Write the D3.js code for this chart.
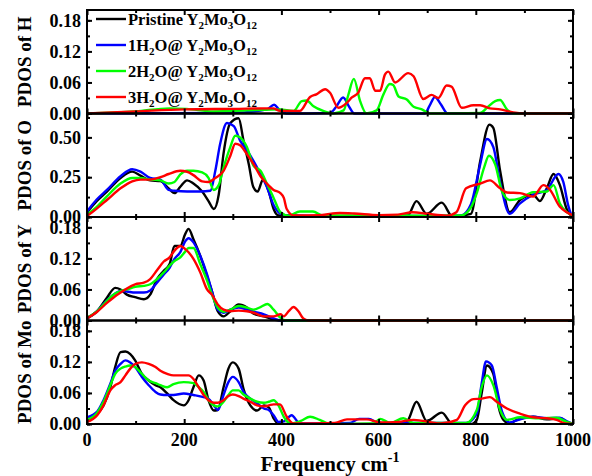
<!DOCTYPE html>
<html>
<head>
<meta charset="utf-8">
<script src="https://cdn.jsdelivr.net/npm/d3@7"></script>
<style>
body { margin: 0; background: #fff; }
text { font-family: "Liberation Serif", "Times New Roman", serif; font-weight: bold; }
</style>
</head>
<body>
<svg id="chart"></svg>
<script>
// frequency / PDOS pairs
var hBlue = [[0,0],[300,0.001],[370,0.008],[385,0.017],[395,0.008],[410,0],[500,0.001],[512,0.012],[527,0.031],[540,0.012],[550,0],[695,0],[705,0.015],[716,0.032],[728,0.018],[742,0],[1000,0]];
var hGreen = [[0,0],[100,0.004],[170,0.01],[205,0.009],[260,0.004],[330,0.006],[397,0.008],[425,0.005],[442,0.024],[452,0.025],[466,0.014],[486,0.005],[507,0],[528,0.006],[538,0.037],[549,0.067],[562,0.024],[575,0],[596,0.006],[610,0.037],[623,0.057],[630,0.055],[641,0.033],[658,0.027],[672,0.013],[689,0.008],[706,0],[809,0.001],[823,0.011],[840,0.024],[850,0.026],[864,0.008],[877,0],[1000,0]];
var hRed = [[0,0],[100,0.004],[200,0.008],[300,0.009],[383,0.01],[397,0.005],[438,0.005],[459,0.032],[472,0.037],[490,0.047],[500,0.04],[517,0.011],[534,0.02],[545,0.031],[558,0.04],[572,0.068],[582,0.068],[593,0.044],[603,0.044],[613,0.075],[620,0.081],[634,0.06],[661,0.078],[672,0.072],[692,0.028],[709,0.036],[723,0.03],[740,0.054],[750,0.052],[771,0.011],[795,0.016],[809,0.016],[829,0.01],[850,0.008],[877,0.002],[900,0],[1000,0]];

var oBlack = [[0,0.03],[20,0.1],[41,0.16],[69,0.245],[93,0.285],[110,0.26],[130,0.23],[151,0.225],[168,0.18],[180,0.15],[192,0.19],[206,0.23],[219,0.21],[237,0.16],[250,0.1],[261,0.05],[271,0.14],[281,0.4],[295,0.59],[312,0.62],[322,0.48],[333,0.33],[342,0.19],[351,0.16],[362,0.235],[374,0.16],[384,0.05],[394,0.01],[420,0.008],[500,0.005],[600,0.005],[660,0.01],[678,0.1],[699,0.02],[730,0.09],[752,0.003],[790,0.02],[809,0.35],[828,0.58],[836,0.56],[850,0.29],[870,0.03],[891,0.107],[918,0.14],[932,0.1],[946,0.18],[960,0.27],[973,0.2],[987,0.05],[996,0.01],[1000,0.005]];
var oBlue = [[0,0.035],[20,0.11],[41,0.17],[69,0.256],[93,0.3],[110,0.285],[130,0.245],[151,0.235],[168,0.17],[180,0.165],[206,0.16],[233,0.16],[254,0.165],[264,0.29],[274,0.46],[288,0.59],[302,0.57],[315,0.48],[329,0.42],[343,0.35],[357,0.27],[370,0.19],[384,0.075],[398,0.02],[410,0.01],[500,0.005],[600,0.008],[700,0.006],[770,0.01],[790,0.08],[809,0.33],[823,0.49],[836,0.44],[850,0.22],[870,0.02],[891,0.085],[918,0.14],[946,0.17],[970,0.27],[980,0.22],[990,0.075],[996,0.02],[1000,0.01]];
var oGreen = [[0,0.015],[20,0.064],[41,0.13],[69,0.21],[93,0.245],[110,0.245],[130,0.235],[151,0.23],[168,0.21],[180,0.22],[192,0.267],[206,0.29],[219,0.29],[237,0.28],[250,0.245],[261,0.17],[271,0.2],[281,0.31],[295,0.44],[305,0.51],[315,0.5],[329,0.44],[343,0.32],[357,0.29],[370,0.21],[384,0.12],[398,0.03],[415,0.008],[438,0.035],[465,0.035],[485,0.01],[560,0.01],[614,0.012],[700,0.008],[770,0.01],[790,0.06],[803,0.16],[817,0.31],[827,0.385],[840,0.33],[854,0.16],[870,0.107],[891,0.117],[918,0.156],[946,0.16],[960,0.2],[973,0.085],[987,0.03],[1000,0.01]];
var oRed = [[0,0.006],[20,0.053],[41,0.107],[69,0.18],[93,0.224],[110,0.235],[130,0.235],[151,0.25],[168,0.27],[192,0.29],[206,0.284],[219,0.263],[237,0.224],[250,0.22],[264,0.245],[281,0.29],[295,0.385],[305,0.46],[315,0.45],[329,0.395],[343,0.33],[357,0.256],[370,0.21],[384,0.17],[398,0.15],[405,0.12],[411,0.05],[425,0.01],[480,0.012],[520,0.025],[550,0.022],[600,0.012],[640,0.015],[670,0.03],[700,0.02],[740,0.008],[760,0.03],[780,0.18],[809,0.21],[829,0.23],[850,0.18],[864,0.154],[891,0.15],[918,0.128],[939,0.2],[953,0.17],[973,0.064],[987,0.03],[1000,0.01]];

var yBlack = [[0,0.004],[21,0.018],[41,0.044],[58,0.063],[69,0.06],[82,0.05],[99,0.045],[117,0.041],[130,0.05],[144,0.08],[158,0.096],[170,0.109],[180,0.144],[192,0.144],[202,0.167],[209,0.177],[219,0.157],[233,0.125],[247,0.086],[257,0.057],[269,0.018],[281,0.008],[295,0.018],[312,0.031],[329,0.025],[343,0.013],[364,0.008],[384,0.002],[400,0],[1000,0]];
var yBlue = [[0,0.004],[21,0.018],[41,0.039],[58,0.052],[69,0.057],[82,0.056],[99,0.054],[117,0.054],[130,0.058],[144,0.073],[158,0.089],[170,0.102],[180,0.119],[192,0.132],[202,0.153],[209,0.159],[219,0.151],[233,0.125],[247,0.089],[257,0.057],[269,0.021],[281,0.015],[295,0.021],[312,0.025],[329,0.021],[343,0.017],[364,0.012],[384,0.004],[400,0],[1000,0]];
var yGreen = [[0,0.005],[21,0.018],[41,0.038],[58,0.052],[69,0.057],[82,0.06],[99,0.065],[117,0.067],[130,0.07],[144,0.08],[158,0.093],[170,0.106],[180,0.115],[192,0.122],[202,0.133],[209,0.14],[219,0.14],[233,0.109],[247,0.077],[257,0.05],[269,0.025],[281,0.017],[295,0.021],[312,0.028],[329,0.025],[343,0.021],[357,0.026],[371,0.032],[384,0.021],[398,0.005],[410,0],[1000,0]];
var yRed = [[0,0.004],[21,0.017],[41,0.034],[58,0.047],[69,0.054],[82,0.062],[99,0.07],[117,0.073],[130,0.08],[144,0.097],[158,0.114],[170,0.122],[180,0.135],[192,0.144],[202,0.138],[209,0.132],[219,0.119],[233,0.093],[247,0.06],[257,0.05],[269,0.031],[281,0.021],[295,0.018],[312,0.019],[329,0.018],[343,0.015],[364,0.008],[384,0.008],[398,0.012],[405,0.008],[415,0.018],[425,0.026],[435,0.018],[445,0.004],[455,0],[1000,0]];

var moBlack = [[0,0.008],[21,0.02],[34,0.036],[48,0.071],[58,0.11],[69,0.139],[79,0.14],[89,0.135],[99,0.123],[113,0.097],[127,0.084],[141,0.075],[151,0.071],[165,0.059],[178,0.046],[199,0.036],[209,0.046],[219,0.071],[230,0.094],[240,0.084],[250,0.046],[261,0.026],[269,0.027],[281,0.071],[291,0.107],[300,0.119],[312,0.107],[322,0.068],[336,0.036],[350,0.026],[364,0.036],[374,0.032],[384,0.011],[394,0],[650,0],[661,0.008],[678,0.043],[699,0.006],[730,0.022],[752,0],[790,0],[802,0.008],[812,0.059],[823,0.113],[836,0.097],[847,0.033],[857,0.008],[870,0.001],[884,0.008],[918,0.014],[946,0.009],[973,0.011],[996,0],[1000,0]];
var moBlue = [[0,0.013],[21,0.024],[34,0.046],[48,0.078],[58,0.103],[69,0.116],[79,0.123],[89,0.119],[99,0.11],[113,0.091],[127,0.075],[141,0.062],[151,0.057],[165,0.056],[178,0.056],[199,0.059],[219,0.056],[240,0.052],[250,0.049],[261,0.036],[269,0.027],[281,0.056],[291,0.081],[300,0.091],[312,0.081],[322,0.062],[336,0.049],[350,0.04],[364,0.03],[374,0.027],[384,0.017],[394,0.004],[405,0.005],[421,0.017],[438,0.001],[540,0.002],[560,0.01],[580,0.01],[600,0.002],[780,0.002],[802,0.02],[812,0.078],[821,0.121],[833,0.113],[843,0.071],[854,0.024],[870,0.003],[891,0.009],[918,0.014],[946,0.011],[973,0.012],[990,0.004],[1000,0]];
var moGreen = [[0,0.008],[21,0.022],[34,0.043],[48,0.075],[58,0.097],[69,0.107],[79,0.111],[89,0.113],[99,0.11],[113,0.097],[127,0.084],[141,0.079],[151,0.075],[165,0.071],[178,0.077],[199,0.081],[219,0.079],[230,0.071],[240,0.062],[250,0.046],[261,0.036],[269,0.034],[281,0.043],[291,0.056],[300,0.065],[312,0.065],[322,0.057],[336,0.049],[350,0.043],[364,0.041],[374,0.043],[384,0.046],[394,0.036],[405,0.014],[419,0.001],[440,0.006],[459,0.014],[479,0.008],[500,0],[590,0.001],[603,0.01],[624,0.002],[651,0.011],[672,0.002],[780,0.002],[802,0.027],[812,0.071],[823,0.094],[836,0.075],[850,0.027],[864,0.008],[891,0.013],[932,0.011],[966,0.012],[987,0.004],[1000,0]];
var moRed = [[0,0.004],[21,0.017],[34,0.036],[48,0.065],[58,0.075],[69,0.081],[79,0.094],[89,0.107],[99,0.116],[113,0.119],[127,0.116],[141,0.11],[151,0.103],[165,0.097],[178,0.094],[199,0.094],[209,0.094],[219,0.087],[230,0.071],[240,0.056],[250,0.046],[261,0.041],[269,0.041],[281,0.046],[291,0.054],[300,0.057],[312,0.054],[322,0.049],[336,0.043],[350,0.036],[364,0.034],[374,0.036],[384,0.038],[397,0.038],[411,0.014],[425,0.001],[510,0.002],[535,0.009],[576,0.009],[603,0.003],[640,0.004],[672,0.008],[727,0.001],[761,0.008],[778,0.036],[795,0.048],[812,0.049],[829,0.052],[843,0.043],[864,0.03],[891,0.02],[918,0.013],[946,0.011],[966,0.008],[984,0.001],[1000,0]];

var legendNames = ["Pristine", "1H", "2H", "3H"];
var colors = ["#000000", "#0000ff", "#00ff00", "#ff0000"];

var panels = [
    { label: "PDOS of H", max: 0.2, ticks: [0, 0.06, 0.12, 0.18], minor: 0.03, series: [null, hBlue, hGreen, hRed] },
    { label: "PDOS of O", max: 0.65, ticks: [0, 0.25, 0.5], minor: 0.125, series: [oBlack, oBlue, oGreen, oRed] },
    { label: "PDOS of Y", max: 0.2, ticks: [0, 0.06, 0.12, 0.18], minor: 0.03, series: [yBlack, yBlue, yGreen, yRed] },
    { label: "PDOS of Mo", max: 0.2, ticks: [0, 0.06, 0.12, 0.18], minor: 0.03, series: [moBlack, moBlue, moGreen, moRed] }
];

var width = 592;
var height = 476;
var plotLeft = 87, plotRight = 573, plotTop = 10, plotBottom = 424;
var panelH = (plotBottom - plotTop) / panels.length;

var svg = d3.select("#chart")
    .attr("width", width)
    .attr("height", height);

var xScale = d3.scaleLinear().domain([0, 1000]).range([plotLeft, plotRight]);

svg.append("defs").append("clipPath")
    .attr("id", "clip")
    .append("rect")
    .attr("x", plotLeft).attr("y", plotTop)
    .attr("width", plotRight - plotLeft).attr("height", plotBottom - plotTop);

panels.forEach(function(p, i){
    var y0 = plotTop + i * panelH;
    var y1 = y0 + panelH;
    var yScale = d3.scaleLinear().domain([0, p.max]).range([y1, y0]);

    var line = d3.line()
        .x(d => xScale(d[0]))
        .y(d => yScale(d[1]))
        .curve(d3.curveMonotoneX);

    var g = svg.append("g").attr("clip-path", "url(#clip)");
    p.series.forEach(function(s, k){
        if(!s) return;
        g.append("path")
            .datum(s)
            .attr("d", line)
            .attr("fill", "none")
            .attr("stroke", colors[k])
            .attr("stroke-width", 2.4)
            .attr("stroke-linejoin", "round");
    });

    // inward ticks on all four sides
    var minorY = d3.range(0, p.max + 1e-9, p.minor);
    var yAxisL = d3.axisRight(yScale).tickValues(p.ticks).tickSize(5).tickFormat("");
    var yAxisLm = d3.axisRight(yScale).tickValues(minorY).tickSize(3).tickFormat("");
    var yAxisR = d3.axisLeft(yScale).tickValues(p.ticks).tickSize(5).tickFormat("");
    var yAxisRm = d3.axisLeft(yScale).tickValues(minorY).tickSize(3).tickFormat("");
    var xAxisB = d3.axisTop(xScale).tickValues(d3.range(0, 1001, 200)).tickSize(5).tickFormat("");
    var xAxisBm = d3.axisTop(xScale).tickValues(d3.range(100, 1000, 200)).tickSize(3).tickFormat("");
    var xAxisT = d3.axisBottom(xScale).tickValues(d3.range(0, 1001, 200)).tickSize(5).tickFormat("");
    var xAxisTm = d3.axisBottom(xScale).tickValues(d3.range(100, 1000, 200)).tickSize(3).tickFormat("");

    [[yAxisL, `translate(${plotLeft},0)`], [yAxisLm, `translate(${plotLeft},0)`],
     [yAxisR, `translate(${plotRight},0)`], [yAxisRm, `translate(${plotRight},0)`],
     [xAxisB, `translate(0,${y1})`], [xAxisBm, `translate(0,${y1})`],
     [xAxisT, `translate(0,${y0})`], [xAxisTm, `translate(0,${y0})`]].forEach(function(a){
        var ag = svg.append("g").attr("transform", a[1]).call(a[0]);
        ag.select(".domain").remove();
        ag.selectAll("line").attr("stroke", "#000").attr("stroke-width", 2);
    });

    svg.append("rect")
        .attr("x", plotLeft).attr("y", y0)
        .attr("width", plotRight - plotLeft).attr("height", panelH)
        .attr("fill", "none")
        .attr("stroke", "#000")
        .attr("stroke-width", 2);

    svg.selectAll(null)
        .data(p.ticks)
        .enter()
        .append("text")
        .attr("x", plotLeft - 6)
        .attr("y", d => yScale(d))
        .attr("dy", "0.35em")
        .attr("text-anchor", "end")
        .style("font-size", "18px")
        .text(d => d3.format(".2f")(d));

    svg.append("text")
        .attr("transform", `translate(24,${(y0 + y1) / 2}) rotate(-90)`)
        .attr("text-anchor", "middle")
        .attr("dy", "0.35em")
        .style("font-size", "19px")
        .text(p.label);
});

// x tick labels
svg.selectAll(null)
    .data(d3.range(0, 1001, 200))
    .enter()
    .append("text")
    .attr("x", d => xScale(d))
    .attr("y", plotBottom + 22)
    .attr("text-anchor", "middle")
    .style("font-size", "18px")
    .text(d => d);

var xt = svg.append("text")
    .attr("x", (plotLeft + plotRight) / 2)
    .attr("y", plotBottom + 47)
    .attr("text-anchor", "middle")
    .style("font-size", "21px");
xt.append("tspan").text("Frequency cm");
xt.append("tspan").attr("dy", -9).style("font-size", "14px").text("-1");

// legend
var legend = svg.append("g");
legendNames.forEach(function(name, k){
    var ly = 19 + k * 26;
    legend.append("line")
        .attr("x1", 96).attr("x2", 126)
        .attr("y1", ly).attr("y2", ly)
        .attr("stroke", colors[k])
        .attr("stroke-width", 2.4);
    var t = legend.append("text")
        .attr("x", 128)
        .attr("y", ly)
        .attr("dy", "0.35em")
        .style("font-size", "16.5px");
    var parts;
    if(name === "Pristine"){
        parts = [["Pristine Y", 0], ["2", 1], ["Mo", 0], ["3", 1], ["O", 0], ["12", 1]];
    } else {
        parts = [[name, 0], ["2", 1], ["O@ Y", 0], ["2", 1], ["Mo", 0], ["3", 1], ["O", 0], ["12", 1]];
    }
    var shifted = false;
    parts.forEach(function(pt){
        var ts = t.append("tspan").text(pt[0]);
        if(pt[1] && !shifted){ ts.attr("dy", 4).style("font-size", "11px"); shifted = true; }
        else if(pt[1]){ ts.style("font-size", "11px"); }
        else if(shifted){ ts.attr("dy", -4); shifted = false; }
    });
});
</script>
</body>
</html>
